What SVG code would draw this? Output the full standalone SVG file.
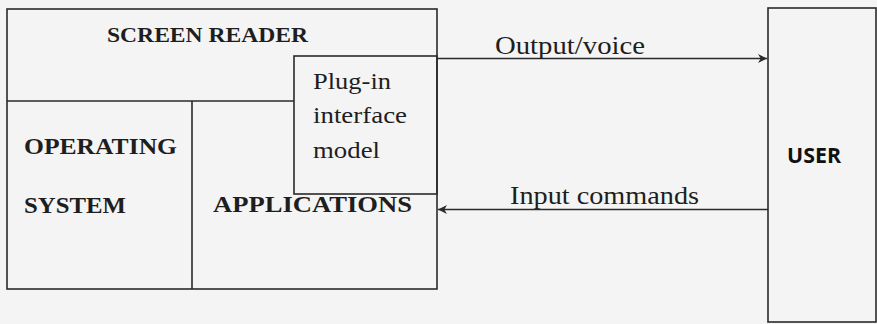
<svg xmlns="http://www.w3.org/2000/svg" width="877" height="324" viewBox="0 0 877 324">
<defs>
<style>
.box{fill:none;stroke:#2a2a2a;stroke-width:1.6}
.ln{stroke:#2a2a2a;stroke-width:1.6;fill:none}
.tb{font-family:"Liberation Serif","Times New Roman",serif;font-weight:bold;fill:#1e1e1e}
.tr{font-family:"Liberation Serif","Times New Roman",serif;fill:#1e1e1e}
.ts{font-family:"Open Sans","Liberation Sans",sans-serif;font-weight:bold;fill:#111}
</style>
<marker id="ah" viewBox="0 0 10 10" refX="10" refY="5" markerWidth="10" markerHeight="9" markerUnits="userSpaceOnUse" orient="auto">
<path d="M0,0 L10,5 L0,10 L3,5 Z" fill="#2a2a2a"/>
</marker>
</defs>
<rect width="877" height="324" fill="#f4f4f4"/>
<g id="screen-reader">
<rect class="box" x="7" y="9" width="430" height="280"/>
<text class="tb" x="107" y="42" font-size="21" textLength="201" lengthAdjust="spacingAndGlyphs">SCREEN READER</text>
</g>
<g id="operating-system">
<path class="ln" d="M7,101 H294 M192,101 V289"/>
<text class="tb" x="24" y="154" font-size="24" textLength="153" lengthAdjust="spacingAndGlyphs">OPERATING</text>
<text class="tb" x="24" y="213" font-size="24" textLength="102" lengthAdjust="spacingAndGlyphs">SYSTEM</text>
</g>
<g id="applications">
<text class="tb" x="213" y="212" font-size="23" textLength="199" lengthAdjust="spacingAndGlyphs">APPLICATIONS</text>
</g>
<g id="plugin">
<rect class="box" x="294" y="56" width="143" height="138" fill="#f4f4f4"/>
<text class="tr" x="313" y="89" font-size="23" textLength="78" lengthAdjust="spacingAndGlyphs">Plug-in</text>
<text class="tr" x="313" y="123" font-size="23" textLength="94" lengthAdjust="spacingAndGlyphs">interface</text>
<text class="tr" x="313" y="158" font-size="23" textLength="67" lengthAdjust="spacingAndGlyphs">model</text>
</g>
<g id="user">
<rect class="box" x="768" y="8" width="108" height="314"/>
<text class="ts" x="787" y="163" font-size="21" textLength="54" lengthAdjust="spacingAndGlyphs">USER</text>
</g>
<g id="connectors">
<line class="ln" x1="437" y1="58.5" x2="767" y2="58.5" marker-end="url(#ah)"/>
<line class="ln" x1="768" y1="209.5" x2="438" y2="209.5" marker-end="url(#ah)"/>
<text class="tr" x="495" y="54" font-size="25" textLength="150" lengthAdjust="spacingAndGlyphs">Output/voice</text>
<text class="tr" x="510" y="204" font-size="25" textLength="189" lengthAdjust="spacingAndGlyphs">Input commands</text>
</g>
</svg>
